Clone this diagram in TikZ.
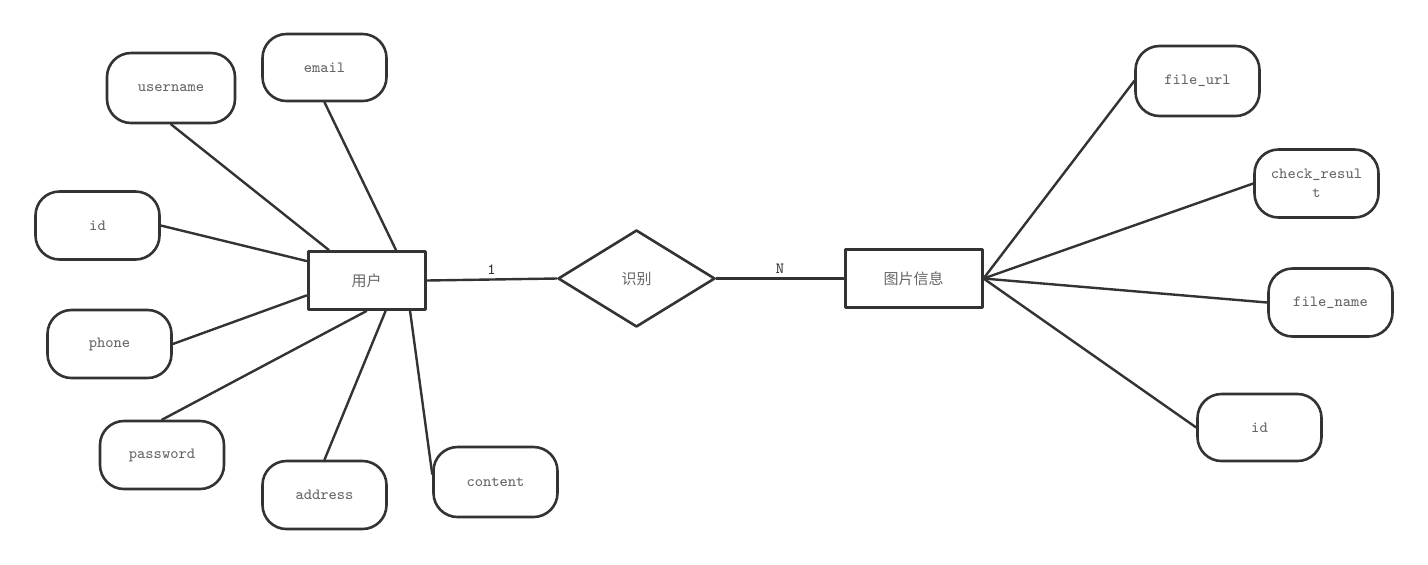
\documentclass[tikz,border=0pt]{standalone}
\usepackage{fontspec}
\newfontfamily\cjk{Noto Sans CJK SC}
\usetikzlibrary{shapes.geometric}
\begin{document}
\begin{tikzpicture}[
		x=0.5pt,y=-0.5pt,
		line cap=round,
		line join=round,
		font=\ttfamily\fontsize{7.8}{9.4}\selectfont,
		attr/.style={draw=black!80,line width=1.3pt,rounded corners=12pt,minimum width=62pt,minimum height=34pt,inner sep=1pt,text=black!60,align=center},
		entity/.style={draw=black!80,line width=1.5pt,minimum height=29pt,inner sep=1pt,text=black!60,font=\cjk\fontsize{7.5}{9}\selectfont},
		rel/.style={diamond,draw=black!80,line width=1.3pt,minimum width=78.5pt,minimum height=48.5pt,inner sep=0pt,text=black!60,font=\cjk\fontsize{7.5}{9}\selectfont},
		link/.style={draw=black!80,line width=1.2pt}
		]
		\useasboundingbox (0,0) rectangle (1428,564);
		% entities and relation
		\node[entity,minimum width=58.5pt] (user) at (366.5,280.5) {用户};
		\node[rel] (recog) at (636.5,278.5) {识别};
		\node[entity,minimum width=68.5pt] (pic) at (913.5,278.5) {图片信息};
		% attributes of user
		\node[attr,minimum width=64pt,minimum height=35pt] (uname) at (171,88) {username};
		\node[attr,minimum height=33.5pt] (email) at (324.5,67.5) {email};
		\node[attr] (uid) at (97.5,225.5) {id};
		\node[attr] (phone) at (109.5,344) {phone};
		\node[attr] (pwd) at (162,455) {password};
		\node[attr] (addr) at (324.5,495) {address};
		\node[attr,minimum height=35pt] (cont) at (495.5,482) {content};
		% attributes of picture
		\node[attr,minimum height=35pt] (url) at (1197.5,81) {file\_url};
		\node[attr] (check) at (1316.5,183.5) {check\_resul\\t};
		\node[attr] (fname) at (1330.5,302.5) {file\_name};
		\node[attr,minimum height=33.5pt] (pid) at (1259.5,427.5) {id};
		% connectors
		\draw[link] (uname.south) -- (user.141.8);
		\draw[link] (email.south) -- (user.46);
		\draw[link] (uid.east) -- (user.162.5);
		\draw[link] (phone.east) -- (user.194.8);
		\draw[link] (pwd.north) -- (user.south);
		\draw[link] (addr.north) -- (user.302);
		\draw[link] ([yshift=4pt]cont.west) -- (user.325);
		\draw[link] (user.east) -- (recog.west) node[midway,above,inner sep=2pt,text=black!80] {1};
		\draw[link] (recog.east) -- (pic.west) node[midway,above,inner sep=2pt,text=black!80] {N};
		\draw[link] (pic.east) -- (url.west);
		\draw[link] (pic.east) -- (check.west);
		\draw[link] (pic.east) -- (fname.west);
		\draw[link] (pic.east) -- (pid.west);
		\end{tikzpicture}
\end{document}
